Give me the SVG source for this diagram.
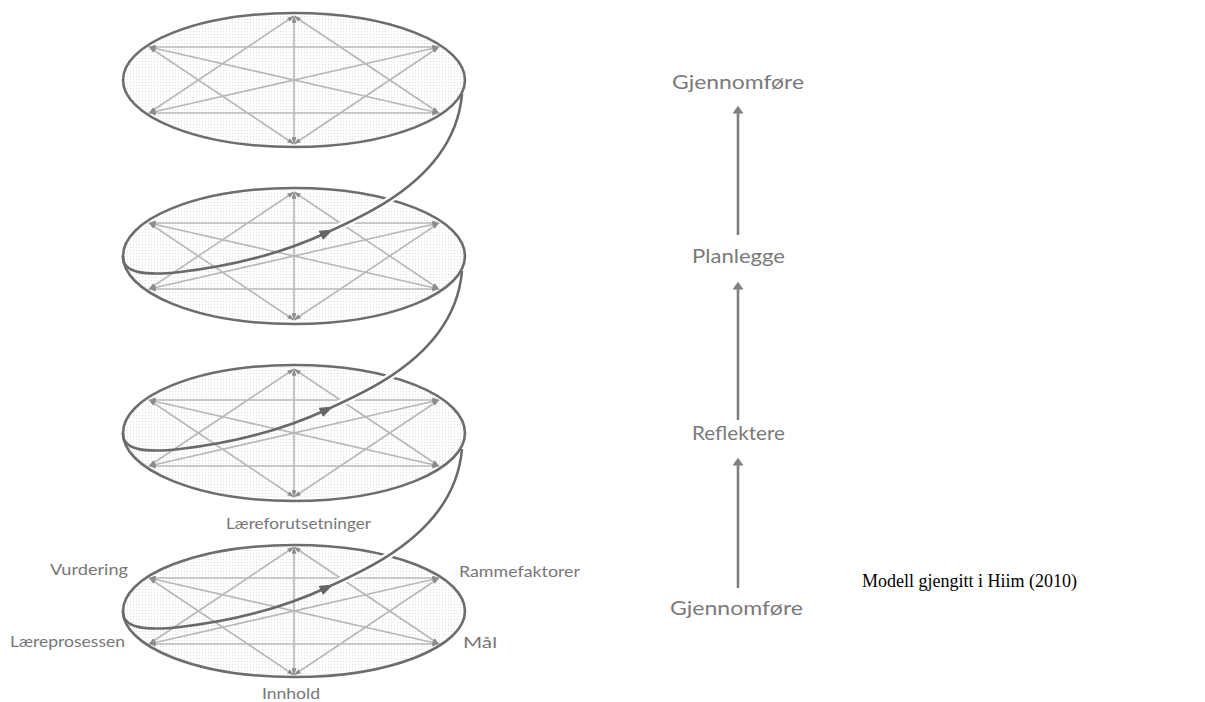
<svg xmlns="http://www.w3.org/2000/svg" xmlns:xlink="http://www.w3.org/1999/xlink" width="1205" height="702" viewBox="0 0 1205 702">
<style>
.ell{stroke:#6d6d6d;stroke-width:2.6;fill:url(#dots)}
.sl{stroke:#b8b8b8;stroke-width:1.6;fill:none;marker-start:url(#sa);marker-end:url(#sa)}
.lab{font-family:Lato,"Open Sans",sans-serif;fill:#777;font-size:16px}
.word{font-family:Lato,"Open Sans",sans-serif;fill:#7a7a7a;font-size:20px}
.sp{stroke:#6a6a6a;stroke-width:2.6;fill:none}
.halo{stroke:#fff;stroke-width:7;fill:none}
.up{stroke:#808080;stroke-width:2.6;fill:none;marker-end:url(#ua)}
.cap{font-family:"Liberation Serif",serif;fill:#000;font-size:18px}
</style>
<defs>
<pattern id="dots" width="3" height="3" patternUnits="userSpaceOnUse">
<rect width="3" height="3" fill="#fff"/>
<circle cx="1.5" cy="1.5" r="0.7" fill="#e3e3e3"/>
</pattern>
<marker id="sa" viewBox="0 0 8 6" refX="8" refY="3" markerWidth="7" markerHeight="5" markerUnits="userSpaceOnUse" orient="auto-start-reverse">
<path d="M0,0 L8,3 L0,6 z" fill="#8c8c8c"/>
</marker>
<marker id="ua" viewBox="0 0 10 14" refX="2" refY="7" markerWidth="14" markerHeight="11" markerUnits="userSpaceOnUse" orient="auto">
<path d="M0,0 L14,7 L0,14 z" fill="#7f7f7f" transform="scale(0.72,1)"/>
</marker>
<marker id="sp-arrow" viewBox="0 0 14 10" refX="8" refY="5" markerWidth="14" markerHeight="10" markerUnits="userSpaceOnUse" orient="auto">
<path d="M0,0 L14,5 L0,10 z" fill="#666"/>
</marker>
<g id="star">
<line class="sl" x1="0" y1="-64" x2="0" y2="64"/>
<line class="sl" x1="-145" y1="-33" x2="145" y2="-33"/>
<line class="sl" x1="-145" y1="33" x2="145" y2="33"/>
<line class="sl" x1="0" y1="-64" x2="-145" y2="33"/>
<line class="sl" x1="0" y1="-64" x2="145" y2="33"/>
<line class="sl" x1="0" y1="64" x2="-145" y2="-33"/>
<line class="sl" x1="0" y1="64" x2="145" y2="-33"/>
<line class="sl" x1="-145" y1="-33" x2="145" y2="33"/>
<line class="sl" x1="-145" y1="33" x2="145" y2="-33"/>
</g>
<g id="seg">
<path class="halo" d="M328,232 C358.8,218 408.7,195.7 438.3,155.7"/>
<path class="sp" d="M123,256 C122,273 145,276 180,272 C240,265 290,250 328,232" marker-end="url(#sp-arrow)"/>
<path class="sp" d="M328,232 C358.8,218 408.7,195.7 438.3,155.7 C450.96,138.6 459.9,118.3 462,94"/>
</g>
</defs>

<g id="level1">
<ellipse class="ell" cx="294" cy="80" rx="171" ry="67"/>
<use xlink:href="#star" transform="translate(294,80)"/>
</g>
<g id="level2">
<ellipse class="ell" cx="294" cy="256" rx="171" ry="68"/>
<use xlink:href="#star" transform="translate(294,256)"/>
</g>
<g id="level3">
<ellipse class="ell" cx="294" cy="433" rx="171" ry="68"/>
<use xlink:href="#star" transform="translate(294,433)"/>
</g>
<g id="level4">
<ellipse class="ell" cx="294" cy="611" rx="171" ry="66"/>
<use xlink:href="#star" transform="translate(294,611)"/>
</g>

<g id="connectors">
<use xlink:href="#seg"/>
<use xlink:href="#seg" transform="translate(0,177)"/>
<use xlink:href="#seg" transform="translate(0,355)"/>
<line class="up" x1="738" y1="235" x2="738" y2="112"/>
<line class="up" x1="738" y1="420" x2="738" y2="288"/>
<line class="up" x1="738" y1="588" x2="738" y2="464"/>
</g>

<g id="labels">
<text id="laereforutsetninger" class="lab" x="226" y="529" textLength="145" lengthAdjust="spacingAndGlyphs">Læreforutsetninger</text>
<text id="vurdering" class="lab" x="50" y="575" textLength="78" lengthAdjust="spacingAndGlyphs">Vurdering</text>
<text id="laereprosessen" class="lab" x="10" y="647" textLength="115" lengthAdjust="spacingAndGlyphs">Læreprosessen</text>
<text id="rammefaktorer" class="lab" x="459" y="577" textLength="121" lengthAdjust="spacingAndGlyphs">Rammefaktorer</text>
<text id="maal" class="lab" x="463" y="648" textLength="34" lengthAdjust="spacingAndGlyphs">Mål</text>
<text id="innhold" class="lab" x="262" y="699" textLength="58" lengthAdjust="spacingAndGlyphs">Innhold</text>
</g>

<g id="gjennomfore-top"><text class="word" x="672" y="89" textLength="132" lengthAdjust="spacingAndGlyphs">Gjennomføre</text></g>
<g id="planlegge"><text class="word" x="692" y="263" textLength="93" lengthAdjust="spacingAndGlyphs">Planlegge</text></g>
<g id="reflektere"><text class="word" x="692" y="440" textLength="93" lengthAdjust="spacingAndGlyphs">Reflektere</text></g>
<g id="gjennomfore-bottom"><text class="word" x="670" y="615" textLength="133" lengthAdjust="spacingAndGlyphs">Gjennomføre</text></g>

<g id="caption"><text class="cap" x="862" y="587">Modell gjengitt i Hiim (2010)</text></g>
</svg>
